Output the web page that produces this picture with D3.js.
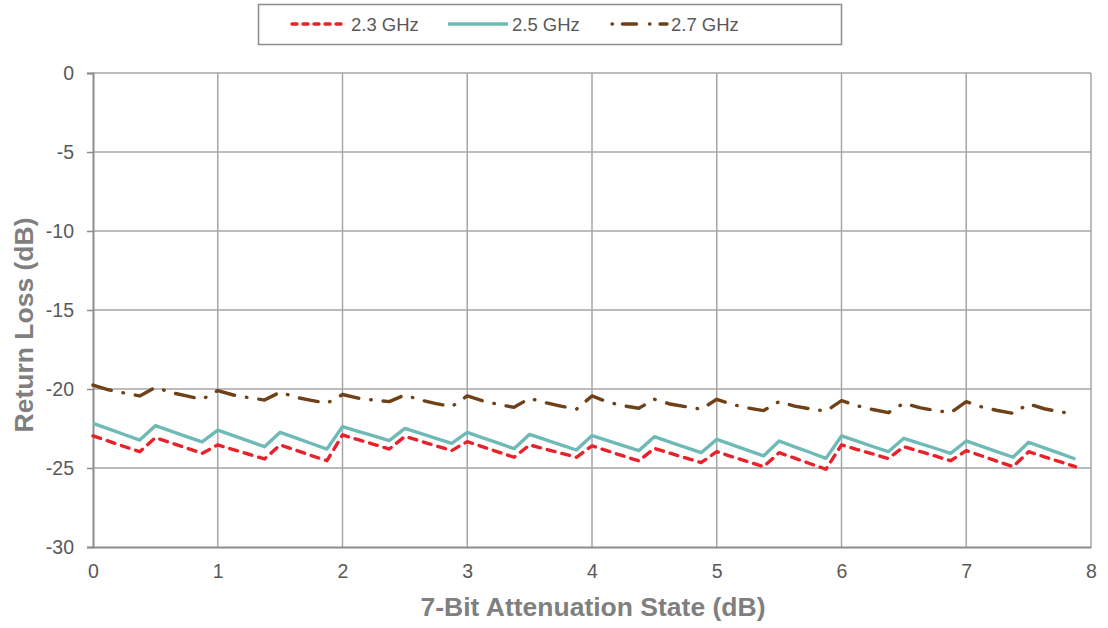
<!DOCTYPE html>
<html>
<head>
<meta charset="utf-8">
<script src="https://cdn.jsdelivr.net/npm/d3@7"></script>
<style>
  body { margin: 0; background: #fff; }
  svg { display: block; font-family: "Liberation Sans", Arial, sans-serif; }
</style>
</head>
<body>
<svg id="chart" width="1108" height="628"></svg>
<script>
// Attenuation states (dB), LSB 0.125 dB
const states = d3.range(64).map(i => i * 0.125);

// Return loss (dB) for each state
const rl23 = [
  -22.97, -23.30, -23.64, -23.97,  -23.08, -23.41, -23.74, -24.07,
  -23.54, -23.84, -24.13, -24.43,  -23.54, -23.87, -24.21, -24.54,
  -22.91, -23.21, -23.50, -23.80,  -23.00, -23.30, -23.60, -23.90,
  -23.33, -23.66, -23.99, -24.32,  -23.54, -23.80, -24.06, -24.32,
  -23.60, -23.92, -24.24, -24.55,  -23.76, -24.06, -24.36, -24.66,
  -23.97, -24.29, -24.60, -24.92,  -24.03, -24.38, -24.73, -25.08,
  -23.54, -23.83, -24.11, -24.40,  -23.65, -23.95, -24.24, -24.54,
  -23.90, -24.24, -24.58, -24.92,  -23.97, -24.29, -24.60, -24.92
];
const rl25 = [
  -22.17, -22.52, -22.88, -23.23,  -22.32, -22.66, -23.01, -23.35,
  -22.60, -22.95, -23.30, -23.65,  -22.74, -23.09, -23.45, -23.80,
  -22.38, -22.68, -22.97, -23.27,  -22.49, -22.81, -23.12, -23.44,
  -22.74, -23.09, -23.43, -23.78,  -22.87, -23.20, -23.53, -23.86,
  -22.95, -23.27, -23.58, -23.90,  -23.02, -23.36, -23.69, -24.03,
  -23.19, -23.54, -23.89, -24.24,  -23.29, -23.66, -24.02, -24.39,
  -22.97, -23.30, -23.64, -23.97,  -23.12, -23.44, -23.75, -24.07,
  -23.29, -23.63, -23.98, -24.32,  -23.37, -23.72, -24.08, -24.43
];
const rl27 = [
  -19.75, -20.05, -20.25, -20.44,  -19.90, -20.22, -20.44, -20.65,
  -20.10, -20.38, -20.55, -20.70,  -20.20, -20.52, -20.72, -20.90,
  -20.35, -20.58, -20.70, -20.80,  -20.38, -20.70, -20.92, -21.12,
  -20.44, -20.75, -20.98, -21.16,  -20.59, -20.86, -21.08, -21.28,
  -20.44, -20.82, -21.06, -21.22,  -20.65, -20.95, -21.12, -21.28,
  -20.65, -20.98, -21.20, -21.37,  -20.80, -21.08, -21.26, -21.40,
  -20.74, -21.06, -21.30, -21.50,  -20.90, -21.18, -21.36, -21.50,
  -20.80, -21.14, -21.36, -21.54,  -20.95, -21.25, -21.44, -21.60
];

const xTicks = [0, 1, 2, 3, 4, 5, 6, 7, 8];
const yTicks = [0, -5, -10, -15, -20, -25, -30];

const series = [
  { name: "2.3 GHz", values: rl23, color: "#e8222b", dash: "8,7", legDash: "5,6", cap: "round" },
  { name: "2.5 GHz", values: rl25, color: "#6fbab6", dash: null, legDash: null, cap: "butt" },
  { name: "2.7 GHz", values: rl27, color: "#6e4119", dash: "19,12,0.5,12", legDash: "0.5,10,14,13", cap: "round" }
];

const svg = d3.select("#chart");
const margin = { left: 93, right: 17, top: 73, bottom: 81 };
const W = 1108, H = 628;

const x = d3.scaleLinear().domain([0, 8]).range([margin.left, W - margin.right]);
const y = d3.scaleLinear().domain([-30, 0]).range([H - margin.bottom, margin.top]);

const grid = "#a6a6a6";
const axisCol = "#8c8c8c";
const textCol = "#595959";
const fmt = d => String(d); // plain hyphen-minus

// Gridlines
svg.append("g").selectAll("line.h").data(yTicks.filter(d => d !== -30)).join("line")
  .attr("x1", x(0)).attr("x2", x(8))
  .attr("y1", d => y(d)).attr("y2", d => y(d))
  .attr("stroke", grid).attr("stroke-width", 1.5);
svg.append("g").selectAll("line.v").data(xTicks.filter(d => d !== 0)).join("line")
  .attr("x1", d => x(d)).attr("x2", d => x(d))
  .attr("y1", y(0)).attr("y2", y(-30))
  .attr("stroke", grid).attr("stroke-width", 1.5);

// Y axis
const yAxis = svg.append("g").attr("transform", `translate(${x(0)},0)`)
  .call(d3.axisLeft(y).tickValues(yTicks).tickSize(6).tickPadding(13).tickFormat(fmt));
yAxis.select(".domain").attr("stroke", axisCol).attr("stroke-width", 2);
yAxis.selectAll(".tick line").attr("stroke", axisCol).attr("stroke-width", 1.5);
yAxis.selectAll(".tick text").attr("fill", textCol).attr("font-size", 19.5)
  .attr("font-family", "Liberation Sans, Arial, sans-serif");

// X axis
const xAxis = svg.append("g").attr("transform", `translate(0,${y(-30)})`)
  .call(d3.axisBottom(x).tickValues(xTicks).tickSize(0).tickPadding(17).tickFormat(fmt));
xAxis.select(".domain").attr("stroke", axisCol).attr("stroke-width", 2);
xAxis.selectAll(".tick text").attr("fill", textCol).attr("font-size", 19.5)
  .attr("font-family", "Liberation Sans, Arial, sans-serif");

// Axis titles
svg.append("text")
  .attr("x", 593).attr("y", 616)
  .attr("text-anchor", "middle").attr("font-size", 26.5).attr("font-weight", "bold")
  .attr("fill", "#7f7f7f").text("7-Bit Attenuation State (dB)");
svg.append("text")
  .attr("transform", `translate(33,325) rotate(-90)`)
  .attr("text-anchor", "middle").attr("font-size", 26.5).attr("font-weight", "bold")
  .attr("fill", "#7f7f7f").text("Return Loss (dB)");

// Lines
const line = d3.line().x((d, i) => x(states[i])).y(d => y(d));
series.forEach(s => {
  svg.append("path")
    .datum(s.values)
    .attr("d", line)
    .attr("fill", "none")
    .attr("stroke", s.color)
    .attr("stroke-width", 3.4)
    .attr("stroke-linejoin", "round")
    .attr("stroke-linecap", s.cap)
    .attr("stroke-dasharray", s.dash);
});

// Legend
const legend = svg.append("g");
legend.append("rect").attr("x", 258.5).attr("y", 4.5).attr("width", 583).attr("height", 40)
  .attr("fill", "#fff").attr("stroke", "#8c8c8c").attr("stroke-width", 1.5);
const legX = [292, 448, 612];
const items = legend.selectAll("g.item").data(series).join("g")
  .attr("transform", (d, i) => `translate(${legX[i]},24)`);
items.append("line")
  .attr("x1", 0).attr("x2", (d, i) => i === 1 ? 60 : 55)
  .attr("y1", 0).attr("y2", 0)
  .attr("stroke", d => d.color).attr("stroke-width", 3.4)
  .attr("stroke-linecap", d => d.cap)
  .attr("stroke-dasharray", d => d.legDash);
items.append("text")
  .attr("x", (d, i) => i === 1 ? 64 : 59).attr("y", 7)
  .attr("font-size", 18.5).attr("fill", textCol)
  .text(d => d.name);
</script>
</body>
</html>
